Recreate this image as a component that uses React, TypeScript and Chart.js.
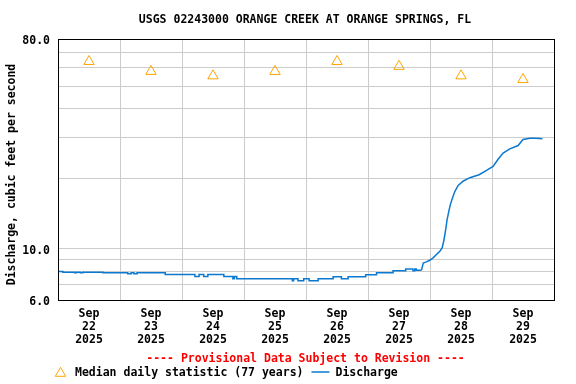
import React, { useEffect, useRef } from 'react';
import { Chart, registerables } from 'chart.js';

Chart.register(...registerables);

const TITLE = 'USGS 02243000 ORANGE CREEK AT ORANGE SPRINGS, FL';
const Y_TITLE = 'Discharge, cubic feet per second';
const PROVISIONAL = '---- Provisional Data Subject to Revision ----';
const LEGEND_MEDIAN = 'Median daily statistic (77 years)';
const LEGEND_FLOW = 'Discharge';

const monthLabel = 'Sep';
const yearLabel = '2025';
const dayLabels = ['22', '23', '24', '25', '26', '27', '28', '29'];

const yGridValues = [6, 7, 8, 9, 10, 20, 30, 40, 50, 60, 70, 80];
const yTickLabels = [6, 10, 80];

// hours since Sep 22 00:00
const medianHours = [12, 36, 60, 84, 108, 132, 156, 180];
const medianFlow = [64, 58, 55.5, 58, 64, 61, 55.5, 53.5];

// base flow (step data): value holds from its hour until next hour
const baseHours = [0, 1.9, 6.5, 7.2, 8.6, 9.6, 17.4, 27.0, 28.3, 29.4, 30.6, 41.5, 53.0, 54.6, 56.4, 58.0, 64.2, 67.7, 68.3, 69.2, 90.7, 91.2, 92.9, 95.1, 97.2, 100.7, 106.5, 109.7, 112.3, 119.1, 123.3, 129.7, 134.6, 137.4, 138.1, 138.7, 140.7];
const baseFlow = [7.97, 7.90, 7.86, 7.90, 7.86, 7.90, 7.86, 7.78, 7.86, 7.78, 7.86, 7.73, 7.57, 7.73, 7.57, 7.73, 7.57, 7.41, 7.57, 7.41, 7.26, 7.41, 7.26, 7.41, 7.26, 7.41, 7.55, 7.41, 7.55, 7.71, 7.86, 8.02, 8.17, 8.02, 8.17, 8.07, 8.07];

// rise
const riseHours = [140.7, 141.4, 142.6, 143.9, 145.2, 146.5, 147.8, 148.7, 149.3, 150.0, 150.6, 151.3, 151.9, 152.7, 153.6, 154.9, 156.8, 159.4, 163.0, 165.9, 168.4, 170.3, 172.3, 174.9, 178.1, 180.0, 182.6, 185.0, 187.5];
const riseFlow = [8.07, 8.65, 8.76, 8.9, 9.12, 9.42, 9.74, 10.07, 10.75, 11.9, 13.3, 14.5, 15.5, 16.5, 17.6, 18.7, 19.5, 20.2, 20.8, 21.7, 22.6, 24.2, 25.8, 26.9, 27.8, 29.5, 29.9, 29.9, 29.7];

const FAMILY = '"DejaVu Sans Mono", monospace';
const FONT_SIZE = 11.5;
const FONT = `bold ${FONT_SIZE}px ${FAMILY}`;
const BLUE = '#0b79d0';
const ORANGE = '#ffa500';
const GRID = '#cccccc';

const overlay = {
  id: 'usgsOverlay',
  afterDraw(chart: any) {
    const ctx = chart.ctx as CanvasRenderingContext2D;
    const { left, top, right, bottom } = chart.chartArea;
    ctx.save();
    ctx.strokeStyle = '#000';
    ctx.lineWidth = 1;
    ctx.strokeRect(Math.round(left) + 0.5, Math.round(top) + 0.5, Math.round(right - left), Math.round(bottom - top));

    ctx.font = FONT;
    ctx.fillStyle = '#000';
    ctx.textAlign = 'center';
    ctx.textBaseline = 'middle';
    ctx.fillText(TITLE, 305, 20.5);

    ctx.save();
    ctx.translate(12, 174.5);
    ctx.rotate(-Math.PI / 2);
    ctx.fillText(Y_TITLE, 0, 0);
    ctx.restore();

    ctx.fillStyle = '#ff0000';
    ctx.fillText(PROVISIONAL, 305.5, 359.5);

    // legend
    const cx = 60.5, cy = 373.3, r = 6;
    ctx.strokeStyle = ORANGE;
    ctx.lineWidth = 1;
    ctx.beginPath();
    ctx.moveTo(cx, cy - r);
    ctx.lineTo(cx + r * Math.sin(Math.PI * 2 / 3), cy - r * Math.cos(Math.PI * 2 / 3));
    ctx.lineTo(cx + r * Math.sin(Math.PI * 4 / 3), cy - r * Math.cos(Math.PI * 4 / 3));
    ctx.closePath();
    ctx.stroke();

    ctx.textAlign = 'left';
    ctx.fillStyle = '#000';
    const x1 = 75;
    ctx.fillText(LEGEND_MEDIAN, x1, 373.5);
    const w1 = ctx.measureText(LEGEND_MEDIAN).width;
    const lx = x1 + w1 + 8;
    ctx.strokeStyle = BLUE;
    ctx.lineWidth = 1.5;
    ctx.beginPath();
    ctx.moveTo(lx, 372);
    ctx.lineTo(lx + 18, 372);
    ctx.stroke();
    ctx.fillText(LEGEND_FLOW, lx + 24, 373.5);
    ctx.restore();
  },
};

export default function App() {
  const ref = useRef<HTMLCanvasElement | null>(null);
  useEffect(() => {
    if (!ref.current) return;
    const chart = new Chart(ref.current, {
      type: 'scatter',
      data: {
        datasets: [
          {
            label: LEGEND_MEDIAN,
            data: medianHours.map((h, i) => ({ x: h, y: medianFlow[i] })),
            showLine: false,
            pointStyle: 'triangle',
            pointRadius: 6,
            pointBorderWidth: 1,
            pointBorderColor: ORANGE,
            pointBackgroundColor: 'rgba(0,0,0,0)',
          },
          {
            label: LEGEND_FLOW,
            data: baseHours.map((h, i) => ({ x: h, y: baseFlow[i] })),
            showLine: true,
            stepped: true,
            borderColor: BLUE,
            borderWidth: 1.5,
            pointRadius: 0,
            fill: false,
          },
          {
            label: LEGEND_FLOW + ' rise',
            data: riseHours.map((h, i) => ({ x: h, y: riseFlow[i] })),
            showLine: true,
            borderColor: BLUE,
            borderWidth: 1.5,
            pointRadius: 0,
            fill: false,
          },
        ],
      } as any,
      options: {
        responsive: false,
        animation: false,
        devicePixelRatio: 1,
        layout: { padding: { top: 39, right: 22, bottom: 0, left: 0 } },
        plugins: {
          legend: { display: false },
          title: { display: false },
          tooltip: { enabled: false },
        },
        scales: {
          x: {
            type: 'linear',
            min: 0,
            max: 192,
            afterBuildTicks: (s: any) => {
              const t = [];
              for (let v = 0; v <= 192; v += 12) t.push({ value: v });
              s.ticks = t;
            },
            afterFit: (s: any) => { s.height = 84; },
            grid: {
              color: (c: any) => (c.tick && c.tick.value % 24 === 0 ? GRID : 'rgba(0,0,0,0)'),
              lineWidth: 1,
              drawTicks: false,
            },
            border: { display: false },
            ticks: {
              autoSkip: false,
              maxRotation: 0,
              minRotation: 0,
              padding: 8,
              color: '#000',
              font: { family: FAMILY, size: FONT_SIZE, weight: 'bold', lineHeight: 1.12 },
              callback: (v: any) => {
                const n = Number(v);
                if (n % 24 !== 12) return '';
                const d = dayLabels[(n - 12) / 24];
                return [monthLabel, d, yearLabel];
              },
            },
          },
          y: {
            type: 'logarithmic',
            min: 6,
            max: 80,
            afterBuildTicks: (s: any) => { s.ticks = yGridValues.map((v) => ({ value: v })); },
            afterFit: (s: any) => { s.width = 58; },
            grid: { color: GRID, lineWidth: 1, drawTicks: false },
            border: { display: false },
            ticks: {
              autoSkip: false,
              padding: 8,
              labelOffset: 2,
              color: '#000',
              font: { family: FAMILY, size: FONT_SIZE, weight: 'bold' },
              callback: (v: any) => (yTickLabels.includes(Number(v)) ? Number(v).toFixed(1) : ''),
            },
          },
        },
      } as any,
      plugins: [overlay],
    });
    return () => chart.destroy();
  }, []);
  return (
    <div style={{ position: 'absolute', left: 0, top: 0, width: 576, height: 384, background: '#fff' }}>
      <canvas ref={ref} width={576} height={384} style={{ display: 'block' }} />
    </div>
  );
}
